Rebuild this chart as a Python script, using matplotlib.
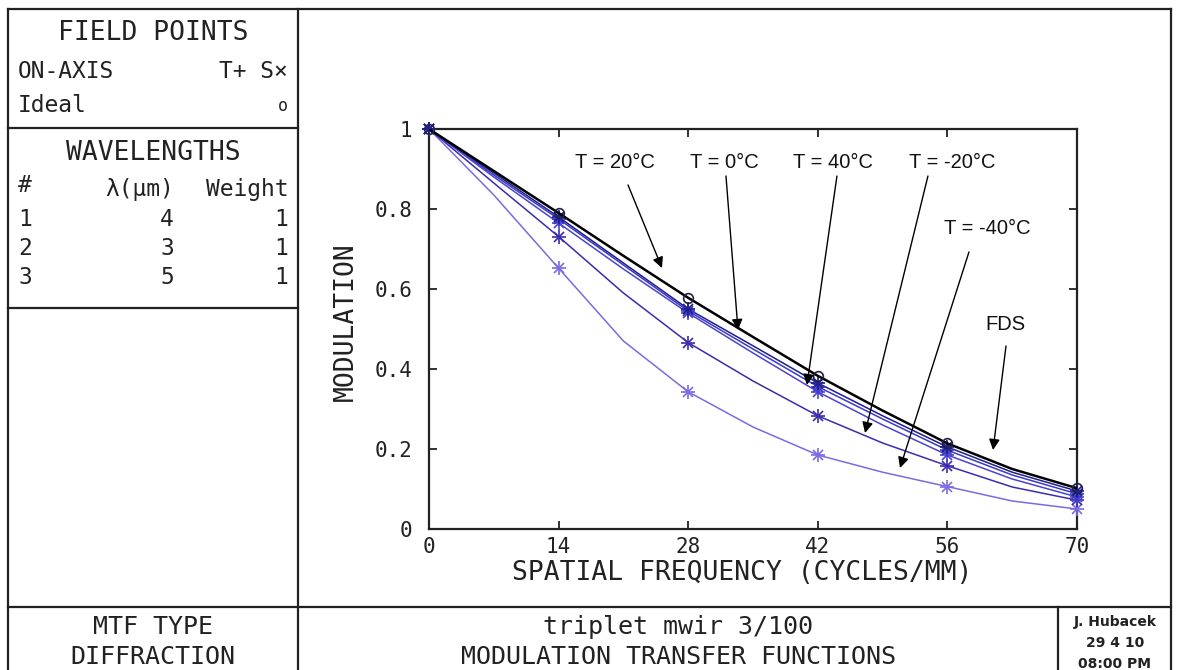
import matplotlib
matplotlib.use("Agg")
import matplotlib.pyplot as plt
from matplotlib.lines import Line2D

# ---------------- data ----------------
freq = [0, 7, 14, 21, 28, 35, 42, 49, 56, 63, 70]
ideal = [1.0, 0.895, 0.79, 0.683, 0.578, 0.48, 0.383, 0.296, 0.214, 0.15, 0.102]
t_p20 = [1.0, 0.89, 0.78, 0.665, 0.55, 0.458, 0.365, 0.283, 0.205, 0.142, 0.095]
t_0 = [1.0, 0.885, 0.775, 0.66, 0.545, 0.45, 0.356, 0.275, 0.197, 0.135, 0.088]
t_p40 = [1.0, 0.88, 0.765, 0.65, 0.54, 0.44, 0.343, 0.26, 0.185, 0.125, 0.08]
t_m20 = [1.0, 0.865, 0.731, 0.59, 0.466, 0.37, 0.283, 0.215, 0.158, 0.105, 0.072]
t_m40 = [1.0, 0.835, 0.652, 0.47, 0.343, 0.255, 0.185, 0.142, 0.106, 0.07, 0.05]

x_ticks = [0, 14, 28, 42, 56, 70]
x_tick_labels = ["0", "14", "28", "42", "56", "70"]
y_ticks = [0, 0.2, 0.4, 0.6, 0.8, 1.0]
y_tick_labels = ["0", "0.2", "0.4", "0.6", "0.8", "1"]

annot_labels = ["T = 20°C", "T = 0°C", "T = 40°C", "T = -20°C", "T = -40°C", "FDS"]

wl_rows = [("1", "4", "1"), ("2", "3", "1"), ("3", "5", "1")]

# ---------------- figure ----------------
W, H = 1177, 670
fig = plt.figure(figsize=(W / 100, H / 100), dpi=100)
fig.patch.set_facecolor("white")

def fx(px):
    return px / W

def fy(py):
    return 1 - py / H

MONO = "DejaVu Sans Mono"
SANS = "Liberation Sans"
FRAME = "#222222"
TXT = "#222222"

def hline(y, x0, x1):
    fig.add_artist(Line2D([fx(x0), fx(x1)], [fy(y), fy(y)], color=FRAME, lw=1.6))

def vline(x, y0, y1):
    fig.add_artist(Line2D([fx(x), fx(x)], [fy(y0), fy(y1)], color=FRAME, lw=1.6))

# outer frame and panel dividers
hline(9, 8, 1171)
vline(8, 9, 670)
vline(1171, 9, 670)
vline(298, 9, 670)
hline(128, 8, 298)
hline(308, 8, 298)
hline(607, 8, 1171)
vline(1058, 607, 670)

def ftext(px, py, s, size, ha="center", family=MONO, **kw):
    fig.text(fx(px), fy(py), s, ha=ha, va="center", fontsize=size,
             family=family, color=TXT, **kw)

# left panel
ftext(153, 33, "FIELD POINTS", 19)
ftext(18, 72, "ON-AXIS", 16.5, ha="left")
ftext(288, 72, "T+ S×", 16.5, ha="right")
ftext(18, 106, "Ideal", 16.5, ha="left")
ftext(283, 106, "o", 12, ha="center")
ftext(153, 153, "WAVELENGTHS", 19)
ftext(18, 185, "#", 16.5, ha="left")
ftext(174, 190, "λ(μm)", 16.5, ha="right")
ftext(288, 190, "Weight", 16.5, ha="right")
for i, (n, lam, w) in enumerate(wl_rows):
    yy = 219 + i * 29.5
    ftext(18, yy, n, 16.5, ha="left")
    ftext(174, yy, lam, 16.5, ha="right")
    ftext(288, yy, w, 16.5, ha="right")

# bottom panel
ftext(153, 627, "MTF TYPE", 18)
ftext(153, 657, "DIFFRACTION", 18)
ftext(678, 627, "triplet mwir 3/100", 18)
ftext(678, 657, "MODULATION TRANSFER FUNCTIONS", 18)
ftext(1115, 622, "J. Hubacek", 10, family="DejaVu Sans", fontweight="bold")
ftext(1115, 643, "29 4 10", 10, family="DejaVu Sans", fontweight="bold")
ftext(1115, 664, "08:00 PM", 10, family="DejaVu Sans", fontweight="bold")

# ---------------- MTF axes ----------------
ax = fig.add_axes([fx(429), fy(529), fx(1077) - fx(429), fy(129) - fy(529)])
ax.set_xlim(0, 70)
ax.set_ylim(0, 1)

curves = [
    (t_m40, "#7a6be0"),
    (t_m20, "#3b2cae"),
    (t_p40, "#4c44d0"),
    (t_0, "#3a3ac6"),
    (t_p20, "#1e1e8c"),
]
for vals, col in curves:
    ax.plot(freq, vals, color=col, lw=1.1, zorder=2)
    ax.plot(freq, vals, ls="none", marker="+", ms=10, mew=1.2, color=col,
            markevery=2, zorder=3, clip_on=False)
    ax.plot(freq, vals, ls="none", marker="x", ms=7.5, mew=1.2, color=col,
            markevery=2, zorder=3, clip_on=False)

ax.plot(freq, ideal, color="black", lw=1.8, zorder=4)
ax.plot(freq, ideal, ls="none", marker="o", ms=7, mfc="none", mec="#222244",
        mew=1.2, markevery=2, zorder=5, clip_on=False)

ax.set_xticks(x_ticks)
ax.set_xticklabels(x_tick_labels)
ax.set_yticks(y_ticks)
ax.set_yticklabels(y_tick_labels)
ax.tick_params(direction="in", length=6, width=1.3, top=True, right=True,
               labelsize=15, colors=TXT)
ax.tick_params(axis="x", pad=6)
ax.tick_params(axis="y", pad=12)
for lab in ax.get_xticklabels() + ax.get_yticklabels():
    lab.set_family(MONO)
for sp in ax.spines.values():
    sp.set_linewidth(1.6)
    sp.set_color(FRAME)

ftext(742, 573, "SPATIAL FREQUENCY (CYCLES/MM)", 19)
fig.text(fx(346), fy(322), "MODULATION", rotation=90, ha="center", va="center",
         fontsize=19, family=MONO, color=TXT)

# annotations (positions in data units)
label_pos = [(20.09, 0.9175), (31.87, 0.9175), (43.64, 0.9175), (56.5, 0.9175),
             (60.28, 0.7525), (62.22, 0.51)]
arrow_start = [(21.5, 0.86), (32.08, 0.8825), (44.07, 0.8825), (53.9, 0.8825),
               (58.33, 0.6925), (62.33, 0.4575)]
arrow_tip = [(25.17, 0.6525), (33.38, 0.4975), (40.83, 0.36), (47.1, 0.24),
             (50.88, 0.1525), (60.93, 0.1975)]
for lab, lp, st, tp in zip(annot_labels, label_pos, arrow_start, arrow_tip):
    ax.text(lp[0], lp[1], lab, ha="center", va="center", fontsize=14.5,
            family=SANS, color="#111111", zorder=6)
    ax.annotate("", xy=tp, xytext=st,
                arrowprops=dict(arrowstyle="-|>", color="black", lw=1.0,
                                mutation_scale=16, shrinkA=0, shrinkB=0),
                zorder=6)

fig.savefig("out.png", dpi=100)
